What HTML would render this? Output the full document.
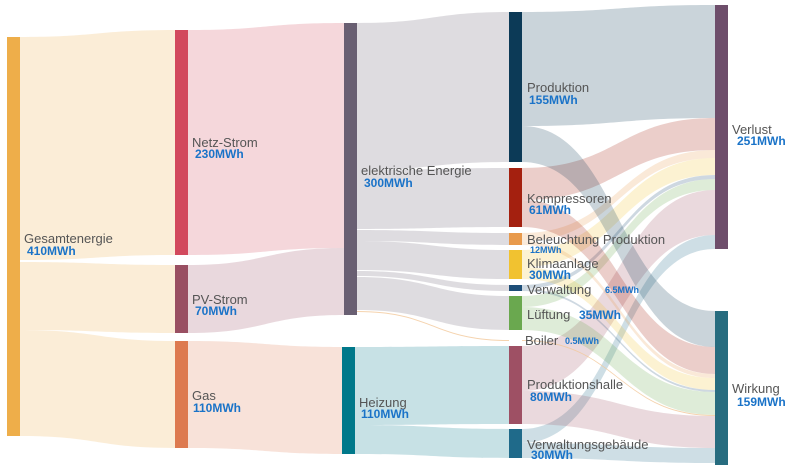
<!DOCTYPE html>
<html><head><meta charset="utf-8"><style>
html,body{margin:0;padding:0;background:#fff}
svg{display:block}
.n{font:13px "Liberation Sans",sans-serif;fill:#555}
.v{font:bold 12px "Liberation Sans",sans-serif;fill:#1a73c8}
.s{font:bold 9px "Liberation Sans",sans-serif;fill:#1a73c8}
</style></head><body>
<svg id="c" width="800" height="472" xmlns="http://www.w3.org/2000/svg">
<g id="links"></g><g id="nodes"></g>
<text class="n" x="24" y="243">Gesamtenergie</text><text class="v" x="27" y="255">410MWh</text>
<text class="n" x="192" y="147">Netz-Strom</text><text class="v" x="195" y="158">230MWh</text>
<text class="n" x="192" y="304">PV-Strom</text><text class="v" x="195" y="315">70MWh</text>
<text class="n" x="192" y="400">Gas</text><text class="v" x="193" y="412">110MWh</text>
<text class="n" x="361" y="175">elektrische Energie</text><text class="v" x="364" y="187">300MWh</text>
<text class="n" x="359" y="407">Heizung</text><text class="v" x="361" y="418">110MWh</text>
<text class="n" x="527" y="92">Produktion</text><text class="v" x="529" y="104">155MWh</text>
<text class="n" x="527" y="203">Kompressoren</text><text class="v" x="529" y="214">61MWh</text>
<text class="n" x="527" y="244">Beleuchtung Produktion</text><text class="s" x="530" y="253">12MWh</text>
<text class="n" x="527" y="268">Klimaanlage</text><text class="v" x="529" y="279">30MWh</text>
<text class="n" x="527" y="294">Verwaltung</text><text class="s" x="605" y="293">6.5MWh</text>
<text class="n" x="527" y="319">Lüftung</text><text class="v" x="579" y="319">35MWh</text>
<text class="n" x="525" y="345">Boiler</text><text class="s" x="565" y="344">0.5MWh</text>
<text class="n" x="527" y="389">Produktionshalle</text><text class="v" x="530" y="401">80MWh</text>
<text class="n" x="527" y="449">Verwaltungsgebäude</text><text class="v" x="531" y="459">30MWh</text>
<text class="n" x="732" y="134">Verlust</text><text class="v" x="737" y="145">251MWh</text>
<text class="n" x="732" y="393">Wirkung</text><text class="v" x="737" y="406">159MWh</text>
</svg>
<script>
var NS="http://www.w3.org/2000/svg";
function el(p,t,a){var e=document.createElementNS(NS,t);for(var k in a)e.setAttribute(k,a[k]);document.getElementById(p).appendChild(e);}
function node(x,y0,y1,c){el("nodes","rect",{x:x,y:y0,width:13,height:y1-y0,fill:c});}
function link(x0,a0,a1,x1,b0,b1,c,o){var m=(x0+x1)/2;
el("links","path",{d:"M"+x0+" "+a0+"C"+m+" "+a0+" "+m+" "+b0+" "+x1+" "+b0+"L"+x1+" "+b1+"C"+m+" "+b1+" "+m+" "+a1+" "+x0+" "+a1+"Z",fill:c,"fill-opacity":o||0.22});}
var C={g:"#eeae4a",ne:"#d2495d",pv:"#994f62",gas:"#dd7a50",el:"#695f72",hz:"#00788a",pr:"#0c3a57",ko:"#a4200f",be:"#e89a4c",kl:"#f1c230",vw:"#1e4e78",lu:"#6aa84f",bo:"#f3c89a",ph:"#9e5064",vg:"#1f6a8a",vl:"#6e4e6b",wi:"#276c7f"};
link(20,37,260,175,30,255,C.g);link(20,262,330,175,265,333,C.g);link(20,330,436,175,341,448,C.g);
link(188,30,255,344,23,248,C.ne);link(188,265,333,344,248,315,C.pv);link(188,341,448,342,347,454,C.gas);
link(357,23,170,509,12,162,C.el);link(357,170,229,509,168,227,C.el);link(357,230,241,509,233,245,C.el);
link(357,241,270,509,250,279,C.el);link(357,271,276,509,285,291,C.el);link(357,277,310,509,296,330,C.el);
link(357,311,312,509,340,341,C.bo,0.8);
link(355,347,425,509,346,424,C.hz);link(355,425,454,509,429,458,C.hz);
// to Verlust
link(522,12,126,715,5,118,C.pr);link(522,168,200,715,118,150,C.ko);link(522,233,241,715,150,158,C.be);
link(522,250,267,715,158,175,C.kl);link(522,285,289,715,175,179,C.vw);link(522,296,307,715,179,190,C.lu);
link(522,346,391,715,190,235,C.ph);link(522,429,443,715,235,249,C.vg);
// to Wirkung
link(522,126,162,715,311,347,C.pr);link(522,200,227,715,347,374,C.ko);link(522,241,245,715,374,378,C.be);
link(522,267,279,715,378,390,C.kl);link(522,289,291,715,390,392,C.vw);link(522,307,330,715,392,415,C.lu);
link(522,340,341,715,415,416,C.bo,0.8);
link(522,391,424,715,416,448,C.ph);link(522,443,458,715,448,463,C.vg);
node(7,37,436,C.g);node(175,30,255,C.ne);node(175,265,333,C.pv);node(175,341,448,C.gas);
node(344,23,315,C.el);node(342,347,454,C.hz);
node(509,12,162,C.pr);node(509,168,227,C.ko);node(509,233,245,C.be);node(509,250,279,C.kl);
node(509,285,291,C.vw);node(509,296,330,C.lu);node(509,346,424,C.ph);node(509,429,458,C.vg);
node(715,5,249,C.vl);node(715,311,465,C.wi);
</script>
</body></html>
